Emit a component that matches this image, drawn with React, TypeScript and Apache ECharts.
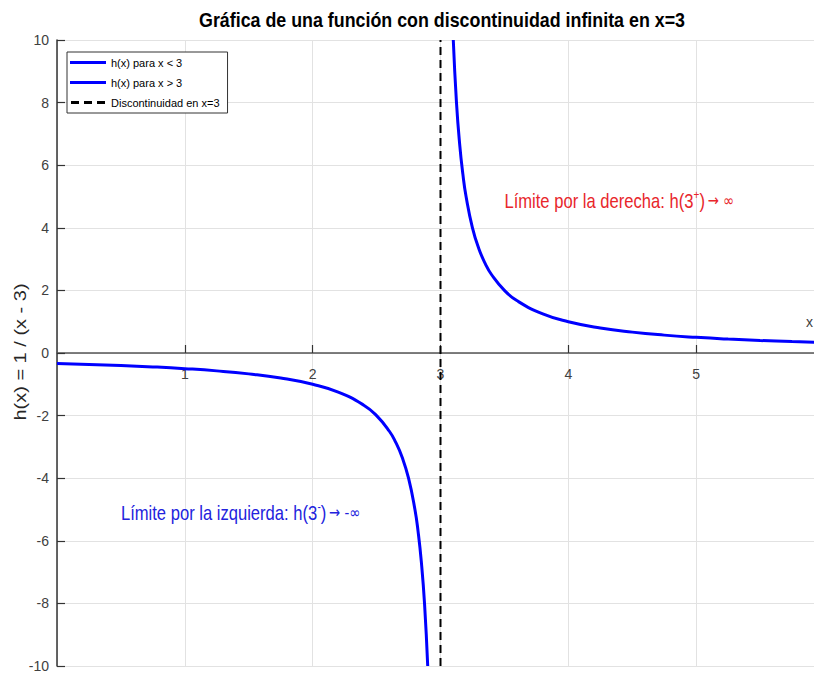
import React, { useEffect, useRef } from "react";
import * as echarts from "echarts";

const titleText = "Gráfica de una función con discontinuidad infinita en x=3";
const yAxisLabel = "h(x) = 1 / (x - 3)";
const xAxisLabel = "x";
const legendNames = ["h(x) para x < 3", "h(x) para x > 3", "Discontinuidad en x=3"];

const leftX = [0, 0.25, 0.5, 0.75, 1, 1.25, 1.5, 1.75, 2, 2.2, 2.4, 2.5, 2.6, 2.65, 2.7, 2.75, 2.8, 2.825, 2.85, 2.875, 2.9];
const leftY = [-0.333, -0.364, -0.4, -0.444, -0.5, -0.571, -0.667, -0.8, -1, -1.25, -1.667, -2, -2.5, -2.857, -3.333, -4, -5, -5.714, -6.667, -8, -10];

const rightX = [3.1, 3.125, 3.15, 3.175, 3.2, 3.25, 3.3, 3.35, 3.4, 3.5, 3.6, 3.8, 4, 4.25, 4.5, 4.75, 5, 5.25, 5.5, 5.75, 6];
const rightY = [10, 8, 6.667, 5.714, 5, 4, 3.333, 2.857, 2.5, 2, 1.667, 1.25, 1, 0.8, 0.667, 0.571, 0.5, 0.444, 0.4, 0.364, 0.333];

const discX = [3, 3];
const discY = [-10, 10];

const annotRight = [3.5, 5];
const annotLeft = [0.5, -5];

const SANS = "'Liberation Sans', Arial, sans-serif";
const SYM = "'DejaVu Sans', sans-serif";

export default function App() {
  const ref = useRef<HTMLDivElement>(null);
  useEffect(() => {
    if (!ref.current) return;
    const chart = echarts.init(ref.current, null, { renderer: "svg" });
    const zip = (xs: number[], ys: number[]) => xs.map((x, i) => [x, ys[i]]);
    chart.setOption({
      animation: false,
      backgroundColor: "#ffffff",
      legend: {
        data: [
          { name: legendNames[0], icon: "rect" },
          { name: legendNames[1], icon: "rect" },
          { name: legendNames[2], icon: "path://M0,0h8v3h-8z M13,0h8v3h-8z M26,0h8v3h-8z" },
        ],
        orient: "vertical",
        left: 67,
        top: 52,
        itemWidth: 36,
        itemHeight: 3,
        itemGap: 9,
        padding: [5, 8, 5, 3],
        borderColor: "#333",
        borderWidth: 1,
        backgroundColor: "#fff",
        textStyle: { fontFamily: SANS, fontSize: 11, color: "#000", padding: [0, 0, 0, 0] },
      },
      grid: { left: 57, right: -10, top: 40, bottom: 7, outerBoundsMode: "none", containLabel: false },
      xAxis: {
        type: "value",
        min: 0,
        max: 6,
        interval: 1,
        axisLine: { onZero: false, lineStyle: { color: "#555", width: 1.5 } },
        axisTick: { inside: true, length: 8, lineStyle: { color: "#333", width: 1.2 } },
        axisLabel: {
          showMinLabel: false,
          showMaxLabel: false,
          margin: 14,
          fontFamily: SANS,
          fontSize: 14,
          color: "#404040",
        },
        splitLine: { show: true, lineStyle: { color: "#e2e2e2", width: 1 } },
      },
      yAxis: {
        type: "value",
        min: -10,
        max: 10,
        interval: 2,
        axisLine: { show: true, onZero: false, lineStyle: { color: "#333", width: 1.5 } },
        axisTick: { show: true, inside: true, length: 8, lineStyle: { color: "#333", width: 1.2 } },
        axisLabel: { margin: 8, fontFamily: SANS, fontSize: 14, color: "#404040" },
        splitLine: { show: true, lineStyle: { color: "#e2e2e2", width: 1 } },
      },
      series: [
        {
          name: legendNames[0],
          type: "line",
          data: zip(leftX, leftY),
          showSymbol: false,
          symbol: "none",
          smooth: 0.5,
          lineStyle: { color: "#0000ff", width: 3 },
          itemStyle: { color: "#0000ff" },
          z: 3,
        },
        {
          name: legendNames[1],
          type: "line",
          data: zip(rightX, rightY),
          showSymbol: false,
          symbol: "none",
          smooth: 0.5,
          lineStyle: { color: "#0000ff", width: 3 },
          itemStyle: { color: "#0000ff" },
          z: 3,
        },
        {
          name: legendNames[2],
          type: "line",
          data: zip(discX, discY),
          showSymbol: false,
          symbol: "none",
          lineStyle: { color: "#000", width: 2, type: [8, 5] },
          itemStyle: { color: "#000" },
          z: 4,
        },
      ],
    });

    // Move the x axis (line, ticks, labels) to y = 0, using the library's own scale.
    const zeroY = chart.convertToPixel({ yAxisIndex: 0 }, 0) as number;
    const bottomY = chart.convertToPixel({ yAxisIndex: 0 }, discY[0]) as number;
    chart.setOption({ xAxis: { offset: zeroY - bottomY } });

    const pR = chart.convertToPixel({ gridIndex: 0 }, annotRight) as number[];
    const pL = chart.convertToPixel({ gridIndex: 0 }, annotLeft) as number[];
    const richFor = (color: string) => ({
      m: { fontFamily: SANS, fontSize: 20, fill: color, color },
      s: { fontFamily: SANS, fontSize: 12, fill: color, color, verticalAlign: "bottom", padding: [0, 0, 12, 0] },
      a: { fontFamily: SYM, fontSize: 16, fill: color, color },
    });
    chart.setOption({
      graphic: [
        {
          type: "text",
          x: 442,
          y: 19,
          scaleX: 0.85,
          z: 10,
          style: {
            text: titleText,
            font: "bold 21px " + SANS,
            fill: "#000",
            textAlign: "center",
            textVerticalAlign: "middle",
          },
        },
        {
          type: "text",
          x: 21,
          y: 352,
          rotation: Math.PI / 2,
          scaleY: 0.78,
          z: 10,
          style: {
            text: yAxisLabel,
            font: "20px " + SANS,
            fill: "#262626",
            textAlign: "center",
            textVerticalAlign: "middle",
          },
        },
        {
          type: "text",
          x: 806,
          y: 322,
          z: 10,
          style: { text: xAxisLabel, font: "14px " + SANS, fill: "#404040", textAlign: "left", textVerticalAlign: "middle" },
        },
        {
          type: "text",
          x: pR[0],
          y: pR[1] + 4,
          scaleX: 0.83,
          z: 10,
          style: {
            text: "{m|Límite por la derecha: h(3}{s|+}{m|)} {a|→ ∞}",
            rich: richFor("#e8262b"),
            textAlign: "left",
            textVerticalAlign: "middle",
          },
        },
        {
          type: "text",
          x: pL[0],
          y: pL[1] + 3,
          scaleX: 0.83,
          z: 10,
          style: {
            text: "{m|Límite por la izquierda: h(3}{s|-}{m|)} {a|→ -∞}",
            rich: richFor("#2222dd"),
            textAlign: "left",
            textVerticalAlign: "middle",
          },
        },
      ],
    });
    return () => chart.dispose();
  }, []);
  return <div ref={ref} style={{ position: "fixed", left: 0, top: 0, width: 814, height: 673 }} />;
}
